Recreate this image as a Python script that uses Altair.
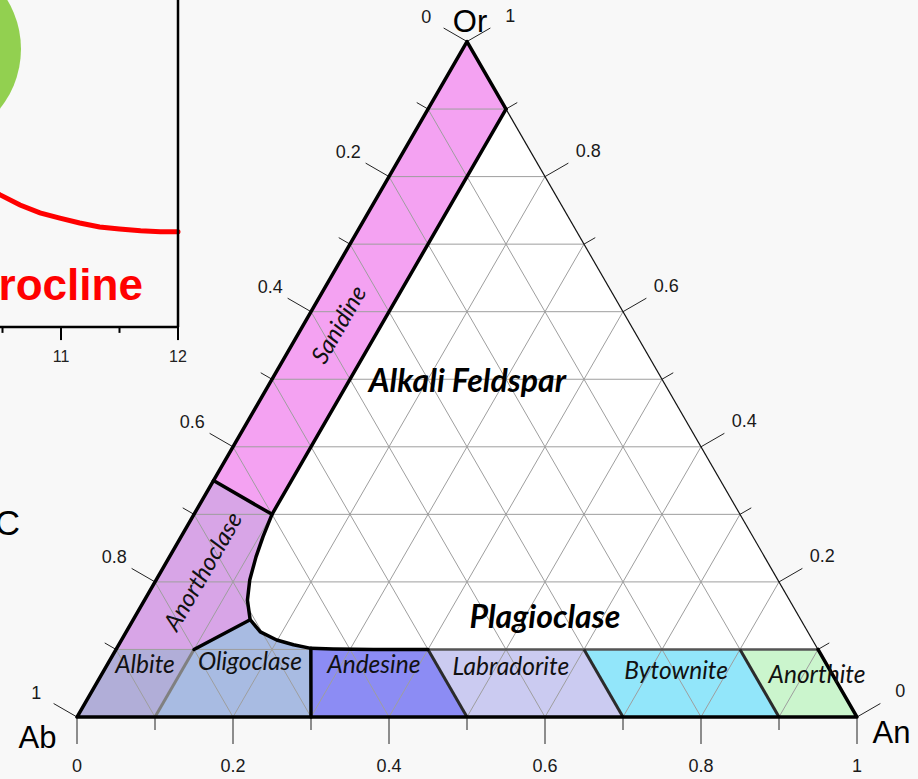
import math
import altair as alt

H = math.sqrt(3) / 2.0

# ---------------- left (cropped) chart ----------------
curve_x = [10.30, 10.48, 10.65, 10.82, 10.99, 11.16, 11.33, 11.50, 11.68, 11.85, 12.00]
curve_y = [0.440, 0.404, 0.373, 0.349, 0.333, 0.318, 0.306, 0.300, 0.294, 0.291, 0.291]
left_major_ticks = [11, 12]
left_minor_ticks = [10.5, 11.5]
left_tick_labels = ["11", "12"]
circle_x = [9.846]
circle_y = [0.850]
left_texts = ["Microcline", "C"]
left_text_x = [11.70, 10.65]
left_text_y = [0.0826, -0.636]

LX = [10.47863, 18.32479]
LY = [-1.38226, 1.0]

# ---------------- ternary feldspar diagram (An, Or fractions) ----------------
solvus_an = [0.100, 0.105, 0.111, 0.120, 0.132, 0.150, 0.172, 0.199, 0.224, 0.249, 0.278, 0.330, 0.400]
solvus_or = [0.300, 0.267, 0.237, 0.203, 0.173, 0.144, 0.126, 0.114, 0.107, 0.1016, 0.1007, 0.100, 0.100]
solvus = list(zip(solvus_an, solvus_or))

field_names = ["Sanidine", "Anorthoclase", "Albite", "Oligoclase",
               "Andesine", "Labradorite", "Bytownite", "Anorthite"]
field_colors = ["#F4A2F2", "#D8A5E7", "#B1AED8", "#A8BBE2",
                "#8C8CF4", "#CBCBF1", "#92E6FA", "#CBF5CD"]
field_vertices = [
    [(0, 1), (0.1, 0.9), (0.1, 0.3), (0, 0.35)],
    [(0, 0.35)] + solvus[0:6] + [(0.1, 0.1), (0, 0.1)],
    [(0, 0), (0.1, 0), (0.1, 0.1), (0, 0.1)],
    [(0.1, 0), (0.3, 0)] + solvus[9:4:-1] + [(0.1, 0.1)],
    [(0.3, 0), (0.5, 0)] + solvus[12:8:-1],
    [(0.5, 0), (0.7, 0), (0.6, 0.1), (0.4, 0.1)],
    [(0.7, 0), (0.9, 0), (0.8, 0.1), (0.6, 0.1)],
    [(0.9, 0), (1, 0), (0.9, 0.1), (0.8, 0.1)],
]
triangle = [(0, 0), (1, 0), (0, 1)]

grid_steps = [0.1, 0.2, 0.3, 0.4, 0.5, 0.6, 0.7, 0.8, 0.9]
tick_values = [0.0, 0.1, 0.2, 0.3, 0.4, 0.5, 0.6, 0.7, 0.8, 0.9, 1.0]
label_values = [0.0, 0.2, 0.4, 0.6, 0.8, 1.0]
label_texts = ["0", "0.2", "0.4", "0.6", "0.8", "1"]

plag_labels = ["Albite", "Oligoclase", "Andesine", "Labradorite", "Bytownite", "Anorthite"]
plag_label_an = [0.0546, 0.187, 0.348, 0.525, 0.740, 0.9235]
plag_label_or = [0.0651, 0.0696, 0.0651, 0.0622, 0.0563, 0.0503]

rot_labels = ["Sanidine", "Anorthoclase"]
rot_label_an = [0.047, 0.0555]
rot_label_or = [0.580, 0.2147]

bold_labels = ["Alkali Feldspar", "Plagioclase"]
bold_label_an = [0.26, 0.534]
bold_label_or = [0.481, 0.1318]

# ---------------- helpers ----------------
TX = alt.Scale(domain=[-77 / 780.0, 841 / 780.0], nice=False, zero=False)
TY = alt.Scale(domain=[-62 / 780.0, 717 / 780.0], nice=False, zero=False)
XS = alt.Scale(domain=LX, nice=False, zero=False)
YS = alt.Scale(domain=LY, nice=False, zero=False)


def cart(an, orv):
    return (an + orv / 2.0, orv * H)


def seg_rows(segs):
    rows = []
    for (p, q) in segs:
        rows.append({"x1": p[0], "y1": p[1], "x2": q[0], "y2": q[1]})
    return rows


def tern_segs(pairs):
    return [(cart(*a), cart(*b)) for a, b in pairs]


def rules(segs, color, width, cap="butt"):
    return alt.Chart(alt.Data(values=seg_rows(segs))).mark_rule(
        color=color, strokeWidth=width, strokeCap=cap).encode(
        x=alt.X("x1:Q", scale=TX, axis=None), y=alt.Y("y1:Q", scale=TY, axis=None),
        x2="x2:Q", y2="y2:Q")


def polygon(pts, color):
    rows = []
    for i, (a, o) in enumerate(list(pts) + [pts[0]]):
        x, y = cart(a, o)
        rows.append({"i": i, "X": x, "Y": y})
    return alt.Chart(alt.Data(values=rows)).mark_line(
        fill=color, strokeWidth=0, interpolate="linear").encode(
        x=alt.X("X:Q", scale=TX, axis=None), y=alt.Y("Y:Q", scale=TY, axis=None),
        order="i:Q")


def polyline(pts, color, width):
    rows = []
    for i, (a, o) in enumerate(pts):
        x, y = cart(a, o)
        rows.append({"i": i, "X": x, "Y": y})
    return alt.Chart(alt.Data(values=rows)).mark_line(
        color=color, strokeWidth=width, strokeJoin="round", strokeCap="round").encode(
        x=alt.X("X:Q", scale=TX, axis=None), y=alt.Y("Y:Q", scale=TY, axis=None),
        order="i:Q")


def tern_text(texts, ans, ors, **mark):
    rows = []
    for t, a, o in zip(texts, ans, ors):
        x, y = cart(a, o)
        rows.append({"label": t, "X": x, "Y": y})
    return alt.Chart(alt.Data(values=rows)).mark_text(**mark).encode(
        x=alt.X("X:Q", scale=TX, axis=None), y=alt.Y("Y:Q", scale=TY, axis=None), text="label:N")


# ---------------- ternary layers ----------------
layers = []
layers.append(polygon(triangle, "#FFFFFF"))
for pts, col in zip(field_vertices, field_colors):
    layers.append(polygon(pts, col))

grid = []
for k in grid_steps:
    grid.append(((0, k), (1 - k, k)))
    grid.append(((k, 0), (k, 1 - k)))
    grid.append(((1 - k, 0), (0, 1 - k)))
layers.append(rules(tern_segs(grid), "#9e9e9e", 1))
layers.append(rules(tern_segs([((0.1, 0.9), (0.9, 0.1))]), "#111111", 1.2))

MAJ, MIN = 27 / 780.0, 13 / 780.0
ticks = []
for i, v in enumerate(tick_values):
    L = MAJ if i % 2 == 0 else MIN
    p = cart(v, 0)
    ticks.append((p, (p[0], p[1] - L)))
    p = cart(0, 1 - v)
    ticks.append((p, (p[0] - H * L, p[1] + 0.5 * L)))
    p = cart(1 - v, v)
    ticks.append((p, (p[0] + H * L, p[1] + 0.5 * L)))
layers.append(rules(ticks, "#222222", 1))

layers.append(rules(tern_segs([((0.4, 0.1), (0.9, 0.1))]), "#555555", 2.5))
layers.append(rules(tern_segs([((0.1, 0), (0.1, 0.1))]), "#808080", 3))
layers.append(rules(tern_segs([((0.5, 0), (0.4, 0.1)), ((0.7, 0), (0.6, 0.1)), ((0.9, 0), (0.8, 0.1))]),
                    "#2b2b2b", 3))
layers.append(polyline([(0.1, 0.9), (0, 1), (0, 0), (1, 0), (0.9, 0.1)], "#000000", 3.5))
layers.append(polyline([(0.1, 0.9), (0.1, 0.3)] + solvus, "#000000", 3.5))
layers.append(rules(tern_segs([((0, 0.35), (0.1, 0.3)), ((0.1, 0.1), solvus[5]), ((0.3, 0), solvus[9])]),
                    "#000000", 3.5, cap="round"))

FONT = "Liberation Sans"
zeros = [0] * len(label_values)
layers.append(tern_text(label_texts, label_values, zeros, font=FONT, fontSize=18, color="#1a1a1a",
                        align="center", baseline="middle", dy=50))
layers.append(tern_text(label_texts, zeros, [1 - v for v in label_values], font=FONT, fontSize=18,
                        color="#1a1a1a", align="center", baseline="middle", dx=-40.7, dy=-23.5))
layers.append(tern_text(label_texts, [1 - v for v in label_values], label_values, font=FONT, fontSize=18,
                        color="#1a1a1a", align="center", baseline="middle", dx=43.3, dy=-25))

layers.append(tern_text(["Or"], [0], [1], font=FONT, fontSize=31, color="#000000",
                        align="center", baseline="alphabetic", dx=3, dy=-9.5))
layers.append(tern_text(["Ab"], [0], [0], font=FONT, fontSize=31, color="#000000",
                        align="center", baseline="alphabetic", dx=-39.5, dy=31))
layers.append(tern_text(["An"], [1], [0], font=FONT, fontSize=31, color="#000000",
                        align="center", baseline="alphabetic", dx=34.5, dy=26))

LFONT = "Lato"
layers.append(tern_text(plag_labels, plag_label_an, plag_label_or, font=LFONT, fontSize=24.5,
                        fontStyle="italic", color="#111111", align="center", baseline="alphabetic"))
layers.append(tern_text(rot_labels, rot_label_an, rot_label_or, font=LFONT, fontSize=24,
                        fontStyle="italic", color="#111111", align="center", baseline="middle", angle=300))
layers.append(tern_text(bold_labels, bold_label_an, bold_label_or, font=LFONT, fontSize=32,
                        fontStyle="italic", fontWeight="bold", color="#000000", align="center",
                        baseline="alphabetic"))

# ---------------- left chart layers ----------------
left = []
left.append(alt.Chart(alt.Data(values=[{"x": a, "y": b} for a, b in zip(circle_x, circle_y)])).mark_point(
    filled=True, shape="circle", size=36100, color="#92D050", opacity=1).encode(
    x=alt.X("x:Q", scale=XS, axis=None), y=alt.Y("y:Q", scale=YS, axis=None)))
left.append(alt.Chart(alt.Data(values=[{"i": i, "x": a, "y": b} for i, (a, b) in enumerate(zip(curve_x, curve_y))])).mark_line(
    color="#FF0000", strokeWidth=5, strokeCap="round").encode(
    x=alt.X("x:Q", scale=XS, axis=None), y=alt.Y("y:Q", scale=YS, axis=None), order="i:Q"))
left.append(alt.Chart(alt.Data(values=[{"x1": 12, "y1": 0, "x2": 12, "y2": 1.05},
                                       {"x1": 10.3, "y1": 0, "x2": 12, "y2": 0}])).mark_rule(
    color="#000000", strokeWidth=2.5).encode(
    x=alt.X("x1:Q", scale=XS, axis=None), y=alt.Y("y1:Q", scale=YS, axis=None), x2="x2:Q", y2="y2:Q"))
left.append(alt.Chart(alt.Data(values=[{"x": v, "y1": 0, "y2": -0.04} for v in left_major_ticks] +
                               [{"x": v, "y1": 0, "y2": -0.018} for v in left_minor_ticks])).mark_rule(
    color="#000000", strokeWidth=2).encode(
    x=alt.X("x:Q", scale=XS, axis=None), y=alt.Y("y1:Q", scale=YS, axis=None), y2="y2:Q"))
left.append(alt.Chart(alt.Data(values=[{"x": v, "y": 0, "t": t} for v, t in zip(left_major_ticks, left_tick_labels)])).mark_text(
    font=FONT, fontSize=16, color="#222222", align="center", baseline="alphabetic", dy=35).encode(
    x=alt.X("x:Q", scale=XS, axis=None), y=alt.Y("y:Q", scale=YS, axis=None), text="t:N"))
left.append(alt.Chart(alt.Data(values=[{"x": left_text_x[0], "y": left_text_y[0], "t": left_texts[0]}])).mark_text(
    font=FONT, fontSize=44, fontWeight="bold", color="#FF0000", align="right", baseline="alphabetic").encode(
    x=alt.X("x:Q", scale=XS, axis=None), y=alt.Y("y:Q", scale=YS, axis=None), text="t:N"))
left.append(alt.Chart(alt.Data(values=[{"x": left_text_x[1], "y": left_text_y[1], "t": left_texts[1]}])).mark_text(
    font=FONT, fontSize=35, color="#000000", align="right", baseline="alphabetic").encode(
    x=alt.X("x:Q", scale=XS, axis=None), y=alt.Y("y:Q", scale=YS, axis=None), text="t:N"))

chart = alt.layer(*(left + layers)).resolve_scale(
    x="independent", y="independent"
).properties(
    width=918, height=779, padding=0, background="#F8F8F8",
    autosize=alt.AutoSizeParams(type="none"),
).configure_view(strokeWidth=0)

chart.save("out.html", embed_options={"renderer": "svg", "actions": False})
